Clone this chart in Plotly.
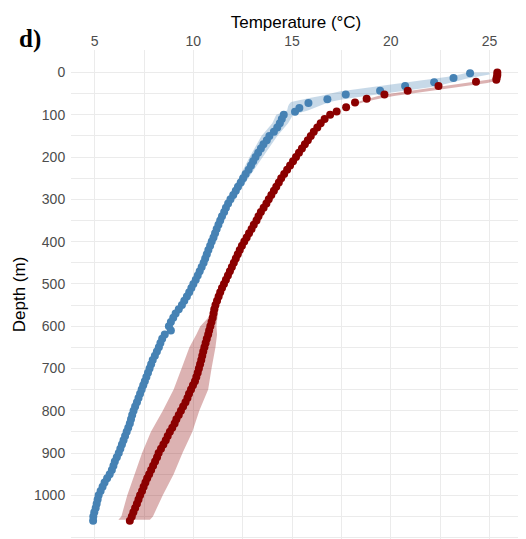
import plotly.graph_objects as go

# ---------------- data ----------------
blue_depth = [2, 13, 23, 32, 43, 52, 63, 72, 84, 93,
              100, 110, 120, 130, 140, 150, 160, 170, 180, 190,
              200, 210, 220, 230, 240, 250, 260, 270, 280, 290,
              300, 310, 320, 330, 340, 350, 360, 370, 380, 390,
              400, 410, 420, 430, 440, 450, 460, 470, 480, 490,
              500, 510, 520, 530, 540, 550, 560, 570, 580, 590,
              600, 610, 620, 630, 640, 650, 660, 670, 680, 690,
              700, 710, 720, 730, 740, 750, 760, 770, 780, 790,
              800, 810, 820, 830, 840, 850, 860, 870, 880, 890,
              900, 910, 920, 930, 940, 950, 960, 970, 980, 990,
              1000, 1010, 1020, 1030, 1040, 1050, 1060]
blue_temp = [24.02, 23.18, 22.2, 20.73, 19.46, 17.72, 16.79, 15.83, 15.37, 15.15,
             14.58, 14.48, 14.38, 14.25, 14.08, 13.85, 13.72, 13.55, 13.42, 13.28,
             13.15, 13.03, 12.92, 12.8, 12.65, 12.52, 12.4, 12.26, 12.15, 12.02,
             11.88, 11.76, 11.65, 11.56, 11.45, 11.36, 11.27, 11.18, 11.1, 11.02,
             10.93, 10.85, 10.76, 10.68, 10.6, 10.52, 10.42, 10.32, 10.22, 10.12,
             10.0, 9.9, 9.79, 9.67, 9.54, 9.42, 9.26, 9.1, 8.98, 8.86,
             8.76, 8.86, 8.55, 8.42, 8.33, 8.25, 8.15, 8.05, 7.94, 7.86,
             7.78, 7.7, 7.62, 7.54, 7.46, 7.38, 7.3, 7.22, 7.14, 7.05,
             6.97, 6.9, 6.84, 6.78, 6.7, 6.62, 6.54, 6.46, 6.38, 6.3,
             6.22, 6.12, 6.02, 5.95, 5.87, 5.76, 5.63, 5.5, 5.4, 5.3,
             5.2, 5.15, 5.1, 5.05, 4.98, 4.93, 4.92]

red_depth = [0, 6, 12, 17, 22, 32, 43, 52, 62, 71, 82, 92,
             100, 110, 120, 130, 140, 150, 160, 170, 180, 190,
             200, 210, 220, 230, 240, 250, 260, 270, 280, 290,
             300, 310, 320, 330, 340, 350, 360, 370, 380, 390,
             400, 410, 420, 430, 440, 450, 460, 470, 480, 490,
             500, 510, 520, 530, 540, 550, 560, 570, 580, 590,
             600, 610, 620, 630, 640, 650, 660, 670, 680, 690,
             700, 710, 720, 730, 740, 750, 760, 770, 780, 790,
             800, 810, 820, 830, 840, 850, 860, 870, 880, 890,
             900, 910, 920, 930, 940, 950, 960, 970, 980, 990,
             1000, 1010, 1020, 1030, 1040, 1050, 1060]
red_temp = [25.4, 25.4, 25.37, 25.35, 24.32, 22.42, 20.86, 19.68, 18.78, 18.19, 17.74, 17.26,
            16.93, 16.65, 16.45, 16.28, 16.1, 15.95, 15.8, 15.65, 15.5, 15.35,
            15.2, 15.05, 14.9, 14.75, 14.6, 14.45, 14.33, 14.2, 14.08, 13.95,
            13.82, 13.7, 13.56, 13.42, 13.3, 13.2, 13.06, 12.95, 12.82, 12.7,
            12.58, 12.46, 12.35, 12.25, 12.15, 12.05, 11.95, 11.85, 11.75, 11.65,
            11.55, 11.45, 11.36, 11.28, 11.2, 11.12, 11.06, 11.02, 10.98, 10.92,
            10.86, 10.8, 10.75, 10.68, 10.62, 10.56, 10.5, 10.45, 10.4, 10.34,
            10.28, 10.22, 10.15, 10.08, 9.98, 9.88, 9.78, 9.7, 9.6, 9.48,
            9.37, 9.26, 9.14, 9.05, 8.93, 8.81, 8.7, 8.6, 8.48, 8.36,
            8.24, 8.16, 8.06, 7.96, 7.86, 7.76, 7.66, 7.57, 7.48, 7.4,
            7.3, 7.22, 7.14, 7.05, 6.96, 6.88, 6.78]

# uncertainty ribbons (temperature range at each depth)
blue_band_depth = [0, 5, 10, 15, 20, 25, 30, 35, 40, 45, 50, 55, 60, 65, 70, 75, 80, 90,
                   100, 120, 150, 200, 250, 300]
blue_band_lo = [23.9, 23.5, 22.9, 22.1, 21.3, 20.6, 19.8, 19.0, 18.1, 17.4, 16.9, 16.5,
                15.95, 15.5, 14.95, 14.85, 14.8, 14.75, 14.2, 14.0, 13.45, 12.85, 12.3, 11.7]
blue_band_hi = [25.0, 25.0, 24.4, 23.8, 23.4, 23.0, 22.5, 22.0, 21.1, 20.3, 19.6, 18.9,
                18.1, 17.4, 16.9, 16.6, 16.3, 15.8, 15.05, 14.8, 14.25, 13.5, 12.78, 12.08]

red_band_top_depth = [0, 10, 16, 20, 25, 30, 35, 40, 45, 50, 55, 60, 65, 70, 75]
red_band_top_lo = [25.3, 25.25, 25.1, 24.5, 23.7, 22.9, 22.1, 21.4, 20.6, 19.95, 19.4,
                   19.0, 18.6, 18.3, 18.1]
red_band_top_hi = [25.55, 25.55, 25.5, 25.3, 24.9, 24.2, 23.4, 22.6, 21.8, 21.0, 20.25,
                   19.65, 19.1, 18.65, 18.3]

red_band_deep_depth = [530, 540, 560, 580, 600, 620, 650, 700, 750, 800, 850, 900, 950,
                       1000, 1050, 1058]
red_band_deep_lo = [11.28, 11.2, 11.0, 10.75, 10.35, 10.15, 9.8, 9.4, 9.0, 8.45, 7.85, 7.4,
                    7.02, 6.65, 6.35, 6.2]
red_band_deep_hi = [11.3, 11.32, 11.28, 11.22, 11.17, 11.2, 11.12, 10.92, 10.75, 10.3, 9.95,
                    9.45, 9.0, 8.45, 7.95, 7.8]

x_major = [5, 10, 15, 20, 25]
x_minor = [7.5, 12.5, 17.5, 22.5]
y_major = [0, 100, 200, 300, 400, 500, 600, 700, 800, 900, 1000]
y_minor = [50, 150, 250, 350, 450, 550, 650, 750, 850, 950, 1050, 1100]

BLUE = "#4682B4"
RED = "#8B0000"
BLUE_FILL = "rgba(70,130,180,0.30)"
RED_FILL = "rgba(139,0,0,0.30)"


def ribbon(depth, lo, hi, color):
    return go.Scatter(
        x=list(lo) + list(hi)[::-1],
        y=list(depth) + list(depth)[::-1],
        mode="lines", fill="toself", fillcolor=color,
        line=dict(width=0, color=color), hoverinfo="skip", showlegend=False)


fig = go.Figure()
fig.add_trace(ribbon(blue_band_depth, blue_band_lo, blue_band_hi, BLUE_FILL))
fig.add_trace(ribbon(red_band_top_depth, red_band_top_lo, red_band_top_hi, RED_FILL))
fig.add_trace(ribbon(red_band_deep_depth, red_band_deep_lo, red_band_deep_hi, RED_FILL))
fig.add_trace(go.Scatter(x=blue_temp, y=blue_depth, mode="markers",
                         marker=dict(size=8, color=BLUE, line=dict(width=0)),
                         showlegend=False))
fig.add_trace(go.Scatter(x=red_temp, y=red_depth, mode="markers",
                         marker=dict(size=8, color=RED, line=dict(width=0)),
                         showlegend=False))

FONT = "Liberation Sans, Arial, sans-serif"
GRID = "#EBEBEB"

# the page body has an 8 px margin, so the figure is 8 px smaller than the window
fig.update_layout(
    template="none",
    width=518, height=531,
    margin=dict(l=63, r=5, t=42, b=0, pad=0),
    paper_bgcolor="white", plot_bgcolor="white",
    font=dict(family=FONT, size=14, color="#4D4D4D"),
    showlegend=False,
    xaxis=dict(
        side="top", range=[3.8, 26.6], tickvals=x_major, ticktext=[str(v) for v in x_major],
        showgrid=True, gridcolor=GRID, gridwidth=1.1, zeroline=False, showline=False,
        ticks="", ticklen=0,
        tickfont=dict(family=FONT, size=14, color="#4D4D4D"),
        minor=dict(tickvals=x_minor, showgrid=True, gridcolor=GRID, gridwidth=0.8, ticks=""),
        title=dict(text="Temperature (°C)", font=dict(family=FONT, size=17, color="black"),
                   standoff=0),
        automargin=False,
    ),
    yaxis=dict(
        range=[1103.4, -53.2], tickvals=y_major, ticktext=[str(v) for v in y_major],
        showgrid=True, gridcolor=GRID, gridwidth=1.1, zeroline=False, showline=False,
        ticks="outside", ticklen=2, tickcolor="rgba(0,0,0,0)",
        tickfont=dict(family=FONT, size=14, color="#4D4D4D"),
        minor=dict(tickvals=y_minor, showgrid=True, gridcolor=GRID, gridwidth=0.8, ticks=""),
        title=dict(text="Depth (m)", font=dict(family=FONT, size=17, color="black"),
                   standoff=4),
        automargin=False,
    ),
    annotations=[dict(
        text="<b>d)</b>", xref="paper", yref="paper",
        x=(17 - 71) / 450, y=(539 - 38.5) / 489, xanchor="left", yanchor="middle",
        showarrow=False, font=dict(family="Liberation Serif, Times New Roman, serif",
                                   size=25, color="black"))],
)

fig.write_html("out.html")
